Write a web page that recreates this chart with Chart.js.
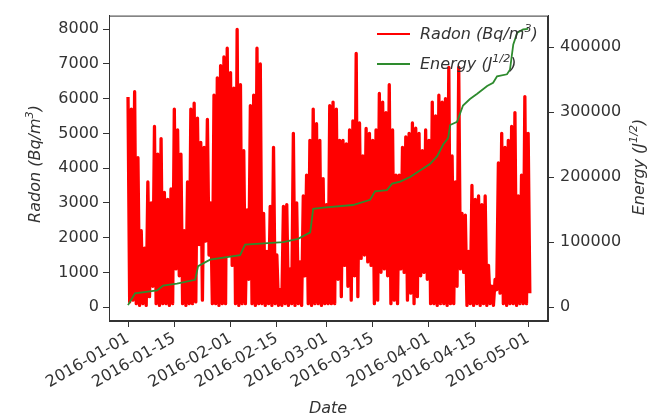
<!DOCTYPE html>
<html>
<head>
<meta charset="utf-8">
<script src="https://cdn.jsdelivr.net/npm/chart.js@4.4.0/dist/chart.umd.min.js"></script>
<style>
  html, body { margin: 0; padding: 0; background: #fff; }
  #wrap { width: 654px; height: 419px; }
</style>
</head>
<body>
<div id="wrap"><canvas id="chart" width="654" height="419"></canvas></div>
<script>
// radon readings, one peak and one trough per day starting 2016-01-01 (Bq/m3)
const radonHigh = [
  6050, 5700, 6200, 4300, 2200, 1700, 3600, 3000, 5200, 4400,
  4850, 3300, 3100, 3400, 5700, 5100, 4400, 2200, 3600, 5700,
  5870, 5440, 4740, 4600, 5400, 3000, 6100, 6600, 6950, 7200,
  7450, 6750, 6300, 7990, 6400, 4500, 2800, 5800, 6100, 7450,
  7000, 2700, 1600, 2900, 4600, 1500, 500, 2900, 2950, 1100,
  5000, 3000, 1300, 3200, 3800, 4800, 5700, 5280, 4800, 3700,
  2950, 5800, 5900, 5700, 4800, 4800, 4700, 5100, 5360, 7300,
  5300, 4350, 5140, 5000, 4800, 5100, 6150, 5900, 5600, 6400,
  5100, 3800, 3800, 4600, 4900, 5000, 5300, 5150, 5000, 4500,
  5100, 4800, 5900, 5500, 6100, 5900, 6000, 6900, 4350, 3600,
  6900, 2700, 2650, 1600, 3500, 3100, 3200, 2950, 3200, 1200,
  600, 800, 4150, 5000, 4600, 4800, 5200, 5600, 3200, 3800,
  6060, 5000
];
const radonLow = [
  150, 200, 100, 50, 100, 50, 300, 600, 100, 50,
  100, 100, 50, 100, 1100, 900, 100, 50, 100, 100,
  150, 1800, 200, 1900, 1500, 100, 100, 50, 100, 100,
  1500, 1200, 100, 50, 100, 100, 800, 100, 50, 100,
  100, 50, 100, 50, 100, 50, 50, 100, 50, 100,
  50, 100, 50, 900, 100, 50, 100, 100, 50, 100,
  100, 100, 100, 800, 300, 1200, 600, 200, 900, 300,
  1400, 1500, 1300, 1200, 100, 200, 1000, 1100, 900, 100,
  200, 100, 1100, 1000, 200, 400, 100, 300, 900, 1000,
  800, 100, 100, 50, 100, 100, 50, 100, 100, 600,
  1100, 1000, 50, 100, 50, 100, 50, 100, 50, 100,
  50, 500, 400, 100, 50, 100, 100, 50, 100, 100,
  100, 400
];

// cumulative energy (J^1/2), days after 2016-01-01
const energyDays = [
  0, 2.1, 8.8, 10.6, 14.8, 20.3, 21.2, 24.8, 33.9, 35.4,
  46.9, 51.4, 55.1, 56, 59, 68, 73.2, 74.7, 78.3, 79.9,
  82.3, 85.3, 88.3, 91.3, 93.5, 95.3, 96.8, 97.4, 99.5, 101.3,
  103.4, 105.6, 108.6, 110.4, 111.6, 114.6, 115.5, 116.5, 117.7, 119.5,
  121
];
const energyValues = [
  3000, 21000, 25500, 33000, 36000, 42000, 63000, 73000, 80000, 96000,
  100000, 105000, 115000, 151000, 153000, 157000, 165000, 178000, 180000, 190000,
  193000, 200000, 210000, 220000, 232000, 250000, 260000, 280000, 285000, 310000,
  320000, 328000, 340000, 345000, 355000, 358000, 365000, 404000, 422000, 427000,
  428000
];

const xTickLabels = ['2016-01-01', '2016-01-15', '2016-02-01', '2016-02-15', '2016-03-01',
  '2016-03-15', '2016-04-01', '2016-04-15', '2016-05-01'];
const radonTicks = [0, 1000, 2000, 3000, 4000, 5000, 6000, 7000, 8000];
const energyTicks = [0, 100000, 200000, 300000, 400000];

const DAY = 86400000;
const t0 = Date.parse(xTickLabels[0]);
const xTickDays = xTickLabels.map(s => (Date.parse(s) - t0) / DAY);

const radonPoints = [];
radonHigh.forEach((v, i) => {
  radonPoints.push({ x: i, y: v });
  radonPoints.push({ x: i + 0.5, y: radonLow[i] });
});
const energyPoints = energyDays.map((d, i) => ({ x: d, y: energyValues[i] }));

const FONT = '"DejaVu Sans", sans-serif';
const TXT = '#333';

function partsWidth(ctx, parts, size) {
  let w = 0;
  parts.forEach(p => {
    ctx.font = `italic ${p.sup ? size * 0.7 : size}px ${FONT}`;
    w += ctx.measureText(p.t).width;
  });
  return w;
}

// text with superscripts; centred on (x,y) unless align is 'left'
function drawRich(ctx, parts, x, y, size, rot, align) {
  ctx.save();
  ctx.translate(x, y);
  if (rot) ctx.rotate(rot);
  ctx.fillStyle = TXT;
  ctx.textBaseline = 'middle';
  ctx.textAlign = 'left';
  const w = partsWidth(ctx, parts, size);
  let cx = align === 'left' ? 0 : -w / 2;
  parts.forEach(p => {
    const s = p.sup ? size * 0.7 : size;
    ctx.font = `italic ${s}px ${FONT}`;
    ctx.fillText(p.t, cx, p.sup ? -size * 0.38 : 0);
    cx += ctx.measureText(p.t).width;
  });
  ctx.restore();
}

const radonLabel = [{ t: 'Radon (Bq/m' }, { t: '3', sup: true }, { t: ')' }];
const energyLabel = [{ t: 'Energy (J' }, { t: '1/2', sup: true }, { t: ')' }];

const decorPlugin = {
  id: 'decor',
  afterDatasetsDraw(chart) {
    const { ctx, chartArea: a } = chart;
    ctx.save();
    ctx.strokeStyle = TXT;
    ctx.lineWidth = 1;
    ctx.strokeRect(a.left + 0.5, a.top + 0.5, a.right - a.left - 1, a.bottom - a.top - 1);

    // legend, upper right, no frame
    const items = [
      { color: '#ff0000', parts: radonLabel, y: 34 },
      { color: '#2e8b2e', parts: energyLabel, y: 64 }
    ];
    items.forEach(it => {
      ctx.strokeStyle = it.color;
      ctx.lineWidth = 1.8;
      ctx.beginPath();
      ctx.moveTo(377, it.y);
      ctx.lineTo(410, it.y);
      ctx.stroke();
      drawRich(ctx, it.parts, 420, it.y + 1, 16, 0, 'left');
    });

    // axis titles
    drawRich(ctx, radonLabel, 36, 164, 16, -Math.PI / 2);
    drawRich(ctx, energyLabel, 640, 167, 16, -Math.PI / 2);
    drawRich(ctx, [{ t: 'Date' }], 328, 409, 16, 0);
    ctx.restore();
  }
};

const tickFont = { family: FONT, size: 16 };

new Chart(document.getElementById('chart'), {
  type: 'line',
  data: {
    datasets: [
      {
        label: 'Energy',
        data: energyPoints,
        yAxisID: 'y2',
        borderColor: '#2e8b2e',
        borderWidth: 1.8,
        pointRadius: 0,
        tension: 0,
        order: 0
      },
      {
        label: 'Radon',
        data: radonPoints,
        yAxisID: 'y',
        borderColor: '#ff0000',
        borderWidth: 3.3,
        borderJoinStyle: 'round',
        pointRadius: 0,
        tension: 0,
        order: 1
      }
    ]
  },
  options: {
    responsive: false,
    animation: false,
    devicePixelRatio: 1,
    layout: { padding: { top: 8, left: 0, right: 0, bottom: 0 } },
    plugins: { legend: { display: false }, tooltip: { enabled: false } },
    scales: {
      x: {
        type: 'linear',
        min: -5.75,
        max: 127,
        afterBuildTicks: s => { s.ticks = xTickDays.map(v => ({ value: v })); },
        afterFit: s => { s.height = 98; },
        ticks: {
          callback: (v, i) => xTickLabels[i],
          autoSkip: false,
          minRotation: 30,
          maxRotation: 30,
          font: { family: FONT, size: 16 },
          color: TXT,
          padding: 2
        },
        grid: { drawOnChartArea: false, tickLength: 6, color: TXT },
        border: { display: true, color: TXT }
      },
      y: {
        position: 'left',
        min: -400,
        max: 8390,
        afterBuildTicks: s => { s.ticks = radonTicks.map(v => ({ value: v })); },
        afterFit: s => { s.width = 109; },
        ticks: { callback: v => String(v), font: tickFont, color: TXT, padding: 4 },
        grid: { drawOnChartArea: false, tickLength: 6, color: TXT },
        border: { display: true, color: TXT }
      },
      y2: {
        position: 'right',
        min: -21400,
        max: 448300,
        afterBuildTicks: s => { s.ticks = energyTicks.map(v => ({ value: v })); },
        afterFit: s => { s.width = 106; },
        ticks: { callback: v => String(v), font: tickFont, color: TXT, padding: 6 },
        grid: { drawOnChartArea: false, tickLength: 6, color: TXT },
        border: { display: true, color: TXT }
      }
    }
  },
  plugins: [decorPlugin]
});
</script>
</body>
</html>
